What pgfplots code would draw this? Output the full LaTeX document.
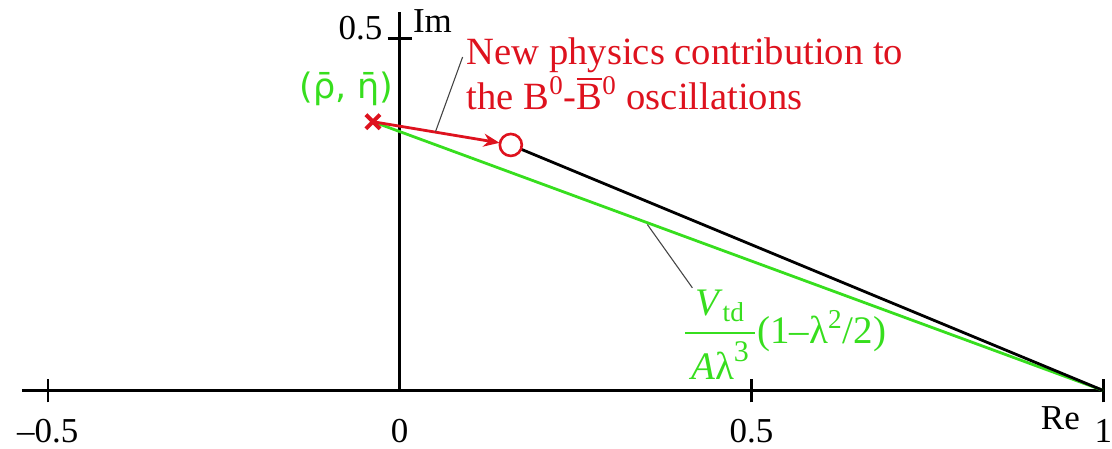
\documentclass[border=0pt]{standalone}
\usepackage{fontspec}
\setmainfont{Liberation Serif}
\newfontfamily\dejavu{DejaVu Sans}
\usepackage{amsmath}
\usepackage{pgfplots}
\pgfplotsset{compat=1.18}
\usetikzlibrary{arrows.meta}
\definecolor{nred}{RGB}{222,18,30}
\definecolor{ngreen}{RGB}{55,222,30}
\definecolor{ptr}{RGB}{70,70,70}

\begin{document}
\begin{tikzpicture}[font=\fontsize{17.5}{21}\selectfont, every node/.style={inner sep=0pt}]
\begin{axis}[
    x=352pt, y=352pt,
    xmin=-0.568, xmax=1.011, ymin=-0.0824, ymax=0.555,
    axis lines=none, clip=false, scale only axis,
]
\path (axis cs:-0.568,-0.0824) rectangle (axis cs:1.011,0.555);
% axes and ticks
\draw[line width=1.3pt] (axis cs:-0.537,0) -- (axis cs:1,0);
\draw[line width=1.3pt] (axis cs:0,0) -- (axis cs:0,0.538);
\draw[line width=1.3pt] (axis cs:-0.5,-0.017) -- (axis cs:-0.5,0.017);
\draw[line width=1.3pt] (axis cs:0.5,-0.017) -- (axis cs:0.5,0.017);
\draw[line width=1.3pt] (axis cs:1,-0.017) -- (axis cs:1,0.017);
\draw[line width=1.3pt] (axis cs:-0.017,0.5) -- (axis cs:0.017,0.5);
% triangle sides
\addplot[ngreen, line width=1.4pt] coordinates {(-0.038,0.382) (1,0)};
\addplot[black, line width=1.4pt] coordinates {(0.158,0.349) (1,0)};
\addplot[nred, line width=1.4pt, -{Stealth[length=8pt,width=6.5pt]}]
  coordinates {(-0.038,0.382) (0.142,0.352)};
% apex points
\addplot[only marks, mark=x, mark size=5pt, mark options={nred, line width=2pt}]
  coordinates {(-0.038,0.382)};
\addplot[only marks, mark=*, mark size=5.5pt, mark options={draw=nred, fill=white, line width=1.3pt}]
  coordinates {(0.158,0.349)};
% pointer lines
\draw[ptr, line width=0.55pt] (axis cs:0.0895,0.474) -- (axis cs:0.051,0.368);
\draw[ptr, line width=0.55pt] (axis cs:0.352,0.236) -- (axis cs:0.416,0.146);
% tick labels
\node[anchor=base east] at (axis cs:-0.024,0.4986) {0.5};
\node[anchor=base west] at (axis cs:0.0185,0.5085) {Im};
\node[anchor=base] at (axis cs:-0.5,-0.0739) {–0.5};
\node[anchor=base] at (axis cs:0,-0.0739) {0};
\node[anchor=base] at (axis cs:0.5,-0.0739) {0.5};
\node[anchor=base] at (axis cs:1,-0.0739) {1};
\node[anchor=base] at (axis cs:0.939,-0.0554) {Re};
% annotations
\node[anchor=base west, text=nred, font=\fontsize{19.3}{23}\selectfont] at (axis cs:0.095,0.463) {New physics contribution to};
\node[anchor=base west, text=nred, font=\fontsize{19.3}{23}\selectfont] at (axis cs:0.095,0.399)
  {the B\textsuperscript{0}-$\overline{\mbox{B}}$\textsuperscript{0} oscillations};
\node[text=ngreen] at (axis cs:-0.0753,0.429) {\dejavu (ρ̄, η̄)};
\node[anchor=west, text=ngreen, font=\fontsize{19.5}{23}\selectfont] at (axis cs:0.402,0.0795)
  {$\displaystyle\genfrac{}{}{1.3pt}{0}{\mbox{\textit{V}\textsubscript{td}}}{\mbox{\hspace{0.15em}\textit{A}λ\raisebox{0.45em}{\fontsize{15}{15}\selectfont 3}\hspace{0.15em}}}$(1–λ\textsuperscript{2}/2)};
\end{axis}
\end{tikzpicture}
\end{document}
